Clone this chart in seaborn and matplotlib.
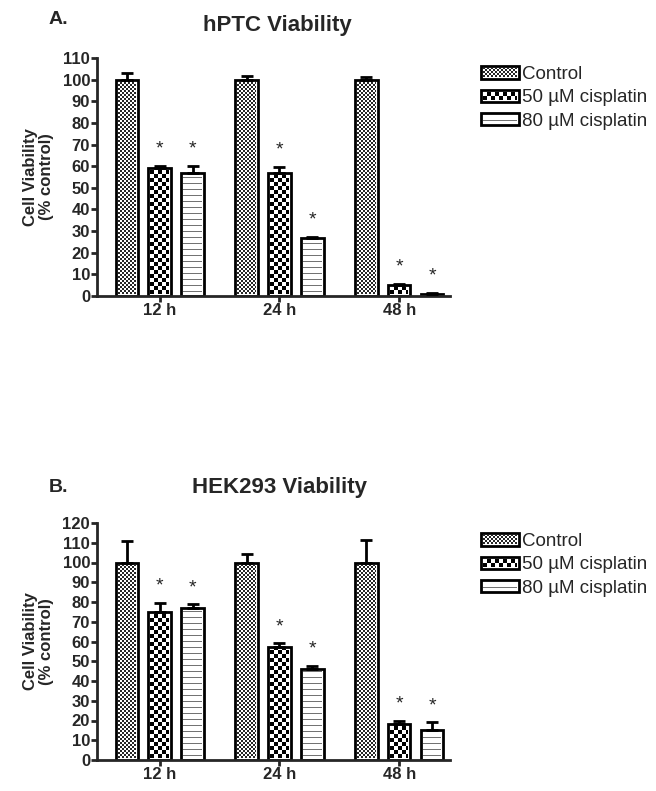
import numpy as np
import pandas as pd
import matplotlib
matplotlib.use('Agg')
import matplotlib.pyplot as plt
import seaborn as sns

sns.set_style('ticks')
plt.rcParams['font.family'] = ['Liberation Sans', 'DejaVu Sans']

times = ['12 h', '24 h', '48 h']
groups = ['Control', '50 µM cisplatin', '80 µM cisplatin']

# hPTC viability (% control), mean and upper error
hptc_control = [100, 100, 100]
hptc_control_err = [3, 1.5, 1]
hptc_50 = [59, 57, 5]
hptc_50_err = [1, 2.5, 0.6]
hptc_80 = [57, 27, 1]
hptc_80_err = [3, 0.5, 0.3]

# HEK293 viability (% control)
hek_control = [100, 100, 100]
hek_control_err = [11, 4.5, 11.5]
hek_50 = [75, 57, 18]
hek_50_err = [4.5, 2, 2]
hek_80 = [77, 46, 15]
hek_80_err = [1.8, 1.7, 4]


def texture(kind, w, h):
    jj, ii = np.meshgrid(np.arange(w), np.arange(h))
    if kind == 0:
        return np.where((ii // 2 + jj // 2) % 2 == 0, 0.15, 1.0)
    if kind == 1:
        return np.where((ii // 4 + jj // 4) % 2 == 0, 0.0, 1.0)
    arr = np.ones((h, w))
    arr[2::6, :] = 0.45
    return arr


def panel(ax, means, errs, ymax, legend_y):
    df = pd.DataFrame({
        'time': times * 3,
        'group': np.repeat(groups, 3),
        'value': np.concatenate(means),
    })
    sns.barplot(data=df, x='time', y='value', hue='group', order=times,
                hue_order=groups, errorbar=None, width=0.825, gap=0.31,
                palette={g: 'white' for g in groups}, saturation=1,
                edgecolor='black', linewidth=2, ax=ax)

    bars = sorted([p for p in ax.patches if p.get_height() > 0],
                  key=lambda p: p.get_x())
    xs = np.array([p.get_x() + p.get_width() / 2 for p in bars])
    tops = np.array([p.get_height() for p in bars])
    e = np.array([errs[g][t] for t in range(3) for g in range(3)])
    ax.errorbar(xs, tops, yerr=[np.zeros_like(e), e], fmt='none',
                ecolor='black', elinewidth=2, capsize=4.5, capthick=2, zorder=4)
    for k in range(len(xs)):
        if k % 3 != 0:
            ax.annotate('*', (xs[k], tops[k] + e[k]), xytext=(0, 6),
                        textcoords='offset points', ha='center', va='bottom',
                        fontsize=14)

    ax.set_xlim(-0.525, 2.425)
    ax.set_ylim(0, ymax)
    ax.set_yticks(range(0, ymax + 1, 10))
    ax.set_xlabel('')
    ax.set_ylabel('Cell Viability\n(% control)', fontsize=12,
                  fontweight='bold', linespacing=1.05)
    ax.yaxis.set_label_coords(-0.122, 0.5)
    sns.despine(ax=ax)
    for s in ['left', 'bottom']:
        ax.spines[s].set_linewidth(2)
    ax.tick_params(width=2, length=4, labelsize=12, pad=1)
    for lab in ax.get_xticklabels() + ax.get_yticklabels():
        lab.set_fontweight('bold')

    sns.move_legend(ax, 'upper left', bbox_to_anchor=(481 / 656, legend_y),
                    bbox_transform=ax.figure.transFigure, frameon=False,
                    title=None, fontsize=13.5, handlelength=2.03,
                    handleheight=0.64, handletextpad=0.16, labelspacing=0.34,
                    borderpad=0, borderaxespad=0)
    return bars


fig = plt.figure(figsize=(6.56, 7.91), dpi=100)
ax1 = fig.add_axes([97 / 656, 1 - 296 / 791, 353 / 656, 238 / 791])
ax2 = fig.add_axes([97 / 656, 1 - 760 / 791, 353 / 656, 237 / 791])

bars1 = panel(ax1, [hptc_control, hptc_50, hptc_80],
              [hptc_control_err, hptc_50_err, hptc_80_err], 110, 1 - 66 / 791)
bars2 = panel(ax2, [hek_control, hek_50, hek_80],
              [hek_control_err, hek_50_err, hek_80_err], 120, 1 - 533 / 791)

fig.text(49 / 656, 1 - 20 / 791, 'A.', fontsize=14, fontweight='bold', va='center')
fig.text(277 / 656, 1 - 25 / 791, 'hPTC Viability', fontsize=16,
         fontweight='bold', ha='center', va='center')
fig.text(49 / 656, 1 - 487 / 791, 'B.', fontsize=14, fontweight='bold', va='center')
fig.text(279 / 656, 1 - 488 / 791, 'HEK293 Viability', fontsize=16,
         fontweight='bold', ha='center', va='center')

# fill bars and legend keys with the printed textures
fig.canvas.draw()
renderer = fig.canvas.get_renderer()
items = []
for bars in (bars1, bars2):
    items += [(p, k % 3) for k, p in enumerate(bars)]
for ax in (ax1, ax2):
    items += [(p, k) for k, p in enumerate(ax.get_legend().get_patches())]
inset = 2
for p, kind in items:
    bb = p.get_window_extent(renderer)
    x0 = int(round(bb.x0)) + inset
    y0 = int(round(bb.y0)) + inset
    w = int(round(bb.x1)) - inset - x0
    h = int(round(bb.y1)) - inset - y0
    if w > 0 and h > 0:
        fig.figimage(texture(kind, w, h), xo=x0, yo=y0, cmap='gray',
                     vmin=0, vmax=1, origin='lower', zorder=3)

fig.savefig('out.png', dpi=100)
